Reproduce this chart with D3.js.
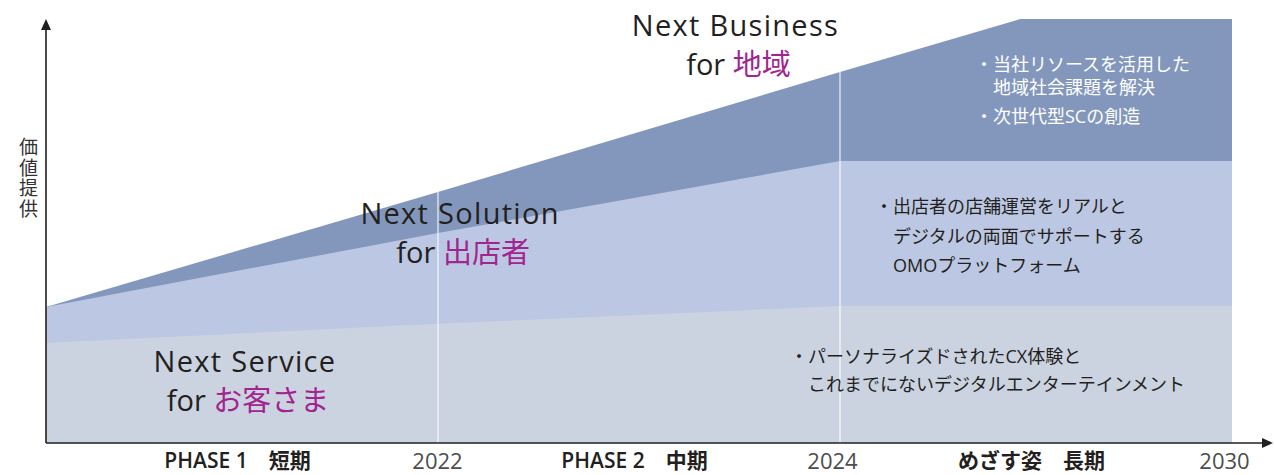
<!DOCTYPE html>
<html>
<head>
<meta charset="utf-8">
<script src="https://cdn.jsdelivr.net/npm/d3@7"></script>
<style>
  body { margin: 0; background: #fff; }
  svg text { font-family: "Open Sans", "Noto Sans CJK JP", sans-serif; }
</style>
</head>
<body>
<div id="chart"></div>
<script>
// Données
const years = ['2022', '2024', '2030'];
const phaseLabels = ['PHASE 1\u3000短期', 'PHASE 2\u3000中期', 'めざす姿\u3000長期'];

// position en phase (0 = départ, 1 = 2022, 2 = 2024, 3 = 2030) et valeur
const businessX = [0, 1, 2, 2.46, 3];
const businessVals = [32.1, 59.2, 87.5, 100, 100];
const solutionX = [0, 1, 2, 3];
const solutionVals = [32.1, 49.5, 66.5, 66.5];
const serviceX = [0, 1, 2, 3];
const serviceVals = [23.6, 28.1, 32.3, 32.3];

const layerNames = ['Next Business', 'Next Solution', 'Next Service'];
const layerTargets = ['地域', '出店者', 'お客さま'];
const layerColors = ['#8397bd', '#bcc8e3', '#cbd3e1'];

const businessNotes = [['・', '当社リソースを活用した'], ['', '地域社会課題を解決'], ['・', '次世代型SCの創造']];
const solutionNotes = [['・', '出店者の店舗運営をリアルと'], ['', 'デジタルの両面でサポートする'], ['', 'OMOプラットフォーム']];
const serviceNotes = [['・', 'パーソナライズドされたCX体験と'], ['', 'これまでにないデジタルエンターテインメント']];

const config = {
  width: 1274,
  height: 475,
  left: 46,
  right: 1232,
  bottom: 443,
  top: 19
};

const svg = d3.select('#chart').append('svg')
  .attr('width', config.width)
  .attr('height', config.height);

// Échelles
const xScale = d3.scaleLinear()
  .domain([0, 1, 2, 3])
  .range([config.left, 438, 840, config.right]);
const yScale = d3.scaleLinear()
  .domain([0, 100])
  .range([config.bottom, config.top]);

const area = d3.area()
  .x(d => xScale(d[0]))
  .y0(yScale(0))
  .y1(d => yScale(d[1]));

const layers = [
  d3.zip(businessX, businessVals),
  d3.zip(solutionX, solutionVals),
  d3.zip(serviceX, serviceVals)
];

// Aires empilées (de l'arrière vers l'avant)
svg.append('g').selectAll('path')
  .data(layers)
  .enter()
  .append('path')
  .attr('d', area)
  .attr('fill', (d, i) => layerColors[i]);

// Lignes verticales blanches aux années 2022 et 2024
const topAt = p => {
  const i = businessX.indexOf(p);
  return businessVals[i];
};
svg.append('g').selectAll('line')
  .data([1, 2])
  .enter()
  .append('line')
  .attr('x1', d => xScale(d))
  .attr('x2', d => xScale(d))
  .attr('y1', yScale(0))
  .attr('y2', d => yScale(topAt(d)))
  .attr('stroke', '#ffffff')
  .attr('stroke-opacity', 0.85)
  .attr('stroke-width', 1.2);

// Axes avec flèches
const axisColor = '#231f20';
svg.append('line')
  .attr('x1', config.left).attr('x2', config.left)
  .attr('y1', config.bottom).attr('y2', 28)
  .attr('stroke', axisColor).attr('stroke-width', 1.6);
svg.append('path')
  .attr('d', `M${config.left - 5},30 L${config.left},19 L${config.left + 5},30 Z`)
  .attr('fill', axisColor);
svg.append('line')
  .attr('x1', config.left).attr('x2', 1264)
  .attr('y1', config.bottom).attr('y2', config.bottom)
  .attr('stroke', axisColor).attr('stroke-width', 1.6);
svg.append('path')
  .attr('d', `M1262,${config.bottom - 5} L1273,${config.bottom} L1262,${config.bottom + 5} Z`)
  .attr('fill', axisColor);

// Étiquettes de l'axe X : années et phases
const yearAxis = svg.append('g')
  .attr('transform', `translate(0, ${config.bottom})`)
  .call(d3.axisBottom(xScale).tickValues([1, 2, 3]).tickFormat(d => years[d - 1]).tickSize(0).tickPadding(10));
yearAxis.select('.domain').remove();
yearAxis.selectAll('text')
  .attr('font-size', 22)
  .attr('fill', '#4d4d4d')
  .attr('dx', d => d === 1 ? -1 : -8)
  .style('font-family', '"Open Sans", sans-serif');

const phaseAxis = svg.append('g')
  .attr('transform', `translate(0, ${config.bottom})`)
  .call(d3.axisBottom(xScale).tickValues([0.5, 1.5, 2.5]).tickFormat((d, i) => phaseLabels[i]).tickSize(0).tickPadding(10));
phaseAxis.select('.domain').remove();
phaseAxis.selectAll('text')
  .attr('font-size', 21)
  .attr('font-weight', 600)
  .attr('fill', '#231f20')
  .attr('dx', -5);

// Étiquette de l'axe Y (texte vertical)
svg.append('text')
  .attr('x', 27)
  .attr('y', 137)
  .attr('fill', '#333333')
  .attr('font-size', 19)
  .attr('letter-spacing', 1.8)
  .style('writing-mode', 'vertical-rl')
  .text('価値提供');

// Titres des couches
const titles = [
  {x: xScale(1.74), y: 36},
  {x: xScale(1.055), y: 224},
  {x: xScale(0.5) + 3, y: 372}
];
titles.forEach((t, i) => {
  const txt = svg.append('text')
    .attr('text-anchor', 'middle')
    .attr('font-size', 29)
    .attr('fill', '#231f20');
  txt.append('tspan').attr('x', t.x).attr('y', t.y)
    .attr('letter-spacing', 1.3)
    .text(layerNames[i]);
  const l2 = txt.append('tspan').attr('x', t.x + 3).attr('y', t.y + 38.5);
  l2.append('tspan').text('for ');
  l2.append('tspan').attr('fill', '#a2248e').text(layerTargets[i]);
});

// Notes à puces
function appendNotes (notes, x, baselines, color) {
  const g = svg.append('g')
    .attr('font-size', 18)
    .attr('fill', color);
  notes.forEach((n, i) => {
    g.append('text').attr('x', x).attr('y', baselines[i]).text(n[0]);
    g.append('text').attr('x', x + 18).attr('y', baselines[i]).text(n[1]);
  });
}
appendNotes(businessNotes, 975, [71, 93.5, 122.5], '#ffffff');
appendNotes(solutionNotes, 875, [213, 242.5, 272], '#231f20');
appendNotes(serviceNotes, 790, [363, 391], '#231f20');
</script>
</body>
</html>
